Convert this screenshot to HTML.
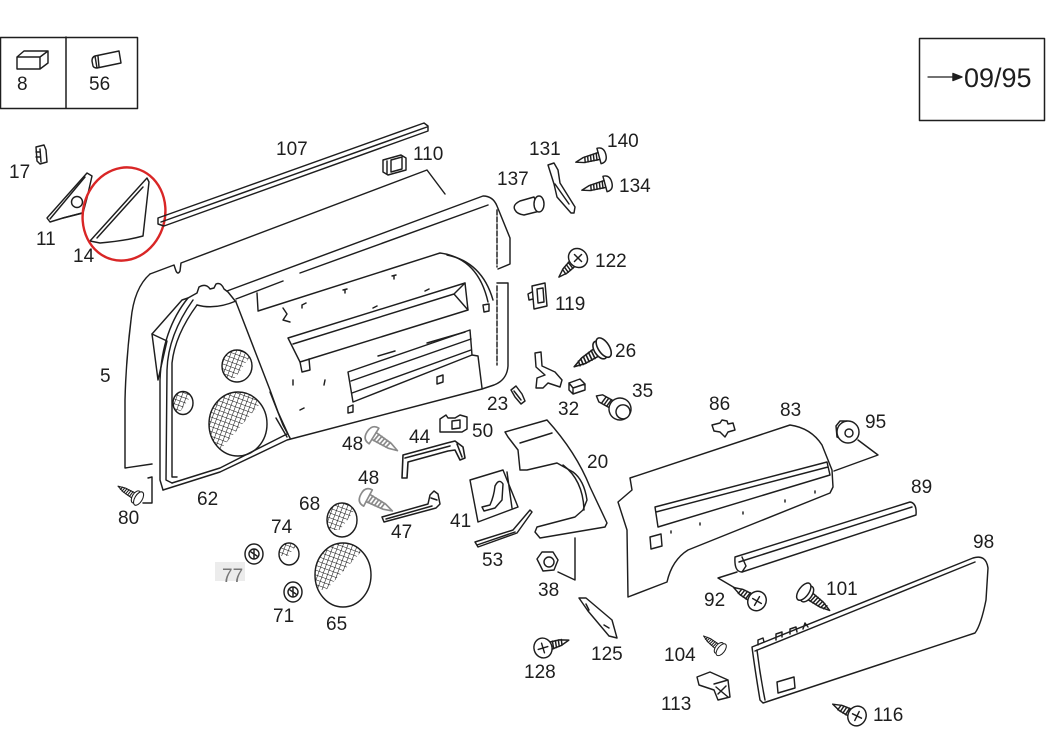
<!DOCTYPE html>
<html><head><meta charset="utf-8"><style>
html,body{margin:0;padding:0;background:#fff;}
svg{display:block;}
text{font-family:"Liberation Sans",Arial,sans-serif;font-size:19px;fill:#1e1e1e;}
</style></head><body>
<svg width="1049" height="732" viewBox="0 0 1049 732" xmlns="http://www.w3.org/2000/svg">
<defs>
<pattern id="mesh" width="4.5" height="4.5" patternUnits="userSpaceOnUse" patternTransform="rotate(20)">
<path d="M0,0 L0,4.5 M0,0 L4.5,0" stroke="#111" stroke-width="1.1" fill="none"/>
</pattern>
<clipPath id="c1"><ellipse cx="237" cy="366" rx="15" ry="16"/></clipPath>
<clipPath id="c2"><ellipse cx="238" cy="424" rx="29" ry="32"/></clipPath>
<clipPath id="c3"><ellipse cx="183" cy="403" rx="10" ry="11.5"/></clipPath>
<clipPath id="c4"><ellipse cx="342" cy="520" rx="15" ry="17"/></clipPath>
<clipPath id="c5"><ellipse cx="343" cy="575" rx="28" ry="32"/></clipPath>
<clipPath id="c6"><ellipse cx="289" cy="554" rx="10" ry="11"/></clipPath>
<g id="ss">
<path d="M0,-8 Q7,-8 7,0 Q7,8 0,8 Z" fill="#fff"/>
<path d="M0,-3.5 L-16,-2.5 L-24,0 L-16,2.5 L0,3.5"/>
<path d="M-2,-3.5 L-3,3.5 M-5,-3.3 L-6,3.3 M-8,-3.1 L-9,3.1 M-11,-2.9 L-12,2.9 M-14,-2.7 L-15,2.7"/>
</g>
<g id="ph">
<path d="M-4,-4 L-18,-3 L-27,0 L-18,3 L-4,4"/>
<path d="M-7,-4 L-8,4 M-10,-3.8 L-11,3.8 M-13,-3.5 L-14,3.5 M-16,-3.2 L-17,3.2 M-19,-2.8 L-20,2.8"/>
<ellipse cx="0" cy="0" rx="9" ry="10" fill="#fff"/>
<path d="M0,-5 L0,5 M-5,0 L5,0"/>
</g>
<g id="rs">
<path d="M-4,-4 L-18,-3 L-28,0 L-18,3 L-4,4"/>
<path d="M-7,-4 L-8,4 M-10,-3.8 L-11,3.8 M-13,-3.5 L-14,3.5 M-16,-3.2 L-17,3.2 M-19,-2.8 L-20,2.8 M-22,-2.2 L-23,2.2"/>
<ellipse cx="0" cy="0" rx="5" ry="9" fill="#fff"/>
<ellipse cx="4" cy="0" rx="5" ry="10" fill="#fff"/>
</g>
<g id="bolt">
<path d="M-6,-4 L-22,-4 L-27,0 L-22,4 L-6,4"/>
<path d="M-9,-4 L-10,4 M-12,-4 L-13,4 M-15,-4 L-16,4 M-18,-4 L-19,4"/>
<circle cx="0" cy="0" r="11" fill="#fff"/>
<circle cx="4" cy="1" r="7" fill="#fff"/>
</g>
</defs>

<g fill="none" stroke="#1e1e1e" stroke-width="1.45" stroke-linejoin="round" stroke-linecap="round">

<!-- top-left box -->
<rect x="0.5" y="37.5" width="137" height="71" stroke-width="1.5"/>
<line x1="66" y1="37" x2="66" y2="108" stroke-width="1.5"/>
<path d="M17,57 L40,57 L40,69 L17,69 Z M17,57 L24,51 L48,51 L40,57 M48,51 L48,63 L40,69"/>
<path d="M95,56 L119,51 L121,63 L97,68 Z M95,56 Q92,57 92,61 L93,66 Q94,68 97,68 M98,56 L99,67"/>

<!-- top-right box -->
<rect x="919.5" y="38.5" width="125" height="82" stroke-width="1.5"/>
<line x1="928" y1="77" x2="954" y2="77" stroke-width="1.2"/>
<path d="M953,73.5 L962,77 L953,80.5 Z" fill="#1e1e1e"/>

<!-- 17 clip -->
<path d="M36,147 L44,145 L46,150 L47,162 L40,164 L37,161 Z M40,149 L41,162 M36,152 L40,152 M36,157 L40,157"/>

<!-- 11 triangle -->
<path d="M87,173 L92,176 L87,198 L83,213 L63,218 L50,222 L47,218 Z"/>
<path d="M85,177 L50,219 M63,218 L82,213"/>
<circle cx="77" cy="202" r="5.5"/>

<!-- 14 triangle -->
<path d="M147,178 L149,182 L143,236 Q125,241 100,243 L90,241 Z"/>
<path d="M143,187 L97,238"/>

<!-- red ellipse -->
<ellipse cx="124" cy="214" rx="41" ry="47" transform="rotate(15 124 214)" stroke="#d92626" stroke-width="2.4"/>

<!-- 107 strip -->
<path d="M158,218 L424,123 L428,126 L428,131 L164,226 L158,224 Z"/>
<path d="M161,222 L427,127"/>

<!-- 110 -->
<path d="M383,160 L401,155 L406,158 L406,170 L388,175 L383,172 Z M387,161 L387,174 M391,160 L402,157 L402,169 L391,172 Z"/>

<!-- main panel 5 -->
<path d="M150,274 L174,265 L176,271 Q178,275 180,271 L181,263 L427,170 L445,194"/>
<path d="M150,274 Q134,288 131,320 Q126,360 125,400 L125,468 L152,464"/>
<path d="M152,477 L148,478 M152,477 L152,503 L143,503"/>
<path d="M227,291 L483,196 Q493,196 497,206 L510,238 L510,264 L498,269"/>
<path d="M497,210 L497,267" stroke-dasharray="5 2"/>
<path d="M300,273 L488,205"/>
<path d="M236,299 L283,281"/>
<path d="M497,283 L508,283 L508,366 Q507,380 494,385 L482,389"/>
<path d="M497,286 L497,365" stroke-dasharray="5 2"/>
<path d="M258,311 L440,253 Q478,258 488,302"/>
<path d="M447,255 Q482,262 493,300"/>
<path d="M483,305 L489,304 L489,311 L484,312 Z"/>
<path d="M257,293 L258,310 M283,308 L287,314 L283,320 L290,322"/>
<!-- upper pocket -->
<path d="M288,338 L465,283 L468,310 L300,362 Z"/>
<path d="M293,344 L454,294 L465,283 M454,294 L468,310"/>
<path d="M300,362 L302,372 L310,370 L309,359"/>
<path d="M378,356 L395,351 M427,343 L465,332"/>
<!-- lower pocket -->
<path d="M348,372 L470,330 L472,355 L353,402 Z"/>
<path d="M351,381 L471,339 M352,393 L471,350"/>
<path d="M437,377 L443,375 L443,382 L437,384 Z"/>
<path d="M348,407 L353,405 L353,412 L348,413 Z"/>
<path d="M472,355 L478,356 L482,388"/>
<!-- small ticks -->
<path d="M302,305 L306,303 M302,305 L302,308 M343,290 L347,289 M345,290 L345,293 M373,308 L377,306 M392,276 L396,275 M394,276 L394,279 M425,291 L429,289 M293,380 L293,385 M325,380 L324,385 M300,410 L304,408"/>
<!-- bottom -->
<path d="M163,490 L220,472 L287,440 L482,389"/>
<path d="M172,483 L220,468 L287,434"/>
<!-- speaker housing -->
<path d="M152,334 L182,300 L188,298 L197,293 L199,287 Q206,283 210,289 L214,288 L216,284 Q221,282 224,289 L228,292 L236,302 L270,390 L278,412 L288,434"/>
<path d="M188,298 Q162,330 160,380 L160,480 L163,490"/>
<path d="M193,300 Q168,335 167,370 L166,480 L172,483"/>
<path d="M197,305 Q175,335 172,363 L172,477 L177,477"/>
<path d="M152,334 L167,341 L158,380 L152,334"/>
<path d="M197,305 Q215,310 236,301"/>
<path d="M270,392 L283,425 L290,438 M276,418 L287,437"/>

<!-- speakers -->
<ellipse cx="237" cy="366" rx="15" ry="16"/>
<ellipse cx="238" cy="424" rx="29" ry="32"/>
<ellipse cx="183" cy="403" rx="10" ry="11.5"/>
</g>
<g stroke="none">
<polygon points="220,348 256,348 235,378 220,378" fill="url(#mesh)" clip-path="url(#c1)"/>
<polygon points="205,390 272,390 220,450 205,450" fill="url(#mesh)" clip-path="url(#c2)"/>
<polygon points="172,390 195,390 180,412 172,412" fill="url(#mesh)" clip-path="url(#c3)"/>
<polygon points="325,500 362,500 340,530 325,530" fill="url(#mesh)" clip-path="url(#c4)"/>
<polygon points="312,540 372,540 326,590 312,590" fill="url(#mesh)" clip-path="url(#c5)"/>
<polygon points="278,541 300,541 288,556 278,556" fill="url(#mesh)" clip-path="url(#c6)"/>
</g>

<g fill="none" stroke="#1e1e1e" stroke-width="1.45" stroke-linejoin="round" stroke-linecap="round">
<!-- small round parts -->
<ellipse cx="342" cy="520" rx="15" ry="17"/>
<ellipse cx="343" cy="575" rx="28" ry="32"/>
<ellipse cx="289" cy="554" rx="10" ry="11"/>
<ellipse cx="254" cy="554" rx="9" ry="10"/>
<circle cx="254" cy="554" r="5"/>
<path d="M251,552 L257,556 M254,550 L254,558"/>
<ellipse cx="293" cy="592" rx="9" ry="10"/>
<circle cx="293" cy="592" r="5"/>
<path d="M290,590 L296,594 M293,588 L293,596"/>

<!-- 80 fastener -->
<use href="#rs" transform="translate(136,497) rotate(31) scale(0.75)"/>

<!-- right top parts -->
<path d="M548,165 L554,163 L558,170 L560,183 L575,207 L574,213 L571,213 L557,197 L554,184 Z M555,184 L569,204"/>
<use href="#ss" transform="translate(599,156) rotate(-15)"/>
<use href="#ss" transform="translate(605,184) rotate(-15)"/>
<path d="M515,210 Q512,205 520,201 L534,197 L540,211 L524,215 Q517,214 515,210 Z"/>
<ellipse cx="539" cy="204" rx="5" ry="8" fill="#fff"/>
<use href="#ph" transform="translate(578,258) rotate(-45)"/>
<path d="M532,286 L545,283 L547,306 L534,309 Z M537,289 L543,288 L544,302 L538,303 Z M532,292 L528,294 L529,300 L533,299"/>
<use href="#rs" transform="translate(600,350) rotate(-33) scale(1.1)"/>
<path d="M535,353 L541,352 L542,366 L555,372 L562,380 L560,387 L548,383 L543,388 L536,388 L537,378 L545,375 L536,367 Z"/>
<path d="M569,383 L580,379 L585,384 L585,390 L573,394 L569,390 Z M569,383 L573,388 L585,384 M573,388 L573,394"/>
<path d="M511,390 L516,386 L522,394 L525,401 L521,404 L515,397 Z M514,391 L521,400"/>
<use href="#bolt" transform="translate(620,409) rotate(29)"/>

<!-- 48 screws (gray) -->
<g stroke="#8a8a8a">
<use href="#ss" transform="translate(374,436) rotate(-148) scale(1.15)"/>
<use href="#ss" transform="translate(368,498) rotate(-152) scale(1.15)"/>
</g>

<!-- 50 -->
<path d="M440,419 L440,432 L462,432 L467,429 L467,417 L460,415 L455,418 L448,418 L446,415 Z M452,421 L460,420 L460,428 L452,429 Z"/>
<!-- 44 -->
<path d="M403,455 L447,443 L455,441 L463,447 L465,458 L460,460 L455,450 L448,451 L408,462 L407,478 L402,478 Z M405,458 L450,446 M457,444 L462,457" stroke-width="1.6"/>
<!-- 47 -->
<path d="M382,517 L428,504 L430,495 L434,491 L438,494 L440,504 L436,508 L384,522 Z M386,519 L432,506 M431,498 L437,500" stroke-width="1.5"/>

<!-- 41 -->
<path d="M470,480 L503,470 L518,507 L478,522 Z M507,472 L512,508"/>
<path d="M482,507 L490,505 Q494,496 495,486 Q499,478 503,484 L502,500 L495,508 L484,511 Z"/>
<!-- 53 -->
<path d="M475,542 L513,530 L530,510 L532,512 L517,533 L478,547 Z M477,545 L515,532"/>
<!-- 20 -->
<path d="M505,432 L547,420 Q576,452 590,487 L607,523 L605,527 L540,538 L535,532 L537,527 L575,517 L583,510 L587,500 Q584,480 573,472 L557,463 L527,470 L520,470 L518,450 L508,437 Z"/>
<path d="M520,443 L552,433 M563,465 Q583,480 584,510"/>
<path d="M575,538 L575,580 L558,572"/>
<!-- 38 -->
<path d="M537,559 L542,552 L553,552 L558,560 L554,570 L543,571 Z"/>
<circle cx="549" cy="562" r="5"/>
<!-- 125 -->
<path d="M579,598 L586,598 L612,620 L617,638 L609,636 L588,611 Z M586,604 L589,610 M604,625 L609,628"/>
<!-- 128 -->
<use href="#ph" transform="translate(543,648) rotate(163)"/>

<!-- 86 -->
<path d="M712,425 L720,423 L722,420 L727,421 L728,424 L733,423 L735,430 L728,432 L725,437 L720,432 L714,431 Z"/>
<!-- 83 -->
<path d="M630,478 L790,425 Q811,428 822,445 L832,470 L833,487 L830,493 L688,550 Q672,560 667,582 L628,597 L627,530 L618,502 L632,490 Z"/>
<path d="M655,507 L827,462 L830,475 L658,527 Z M656,512 L828,467"/>
<path d="M650,537 L661,534 L662,546 L651,549 Z"/>
<path d="M671,531 L671,533 M700,523 L700,525 M743,512 L743,514 M785,500 L785,502 M815,491 L815,493"/>
<!-- 95 -->
<path d="M836,426 L840,421 L847,421 L843,440 L837,437 Z"/>
<circle cx="848" cy="432" r="11" fill="#fff"/>
<circle cx="849" cy="433" r="4"/>
<path d="M858,440 L878,455 L834,471"/>
<!-- 89 -->
<path d="M735,557 L910,502 Q917,503 916,515 L742,572 Q734,572 735,557 Z"/>
<path d="M739,562 L912,507 M742,557 L746,566 L742,572"/>
<path d="M737,572 L718,578 L735,588"/>
<use href="#ph" transform="translate(757,601) rotate(30)"/>
<use href="#rs" transform="translate(807,594) rotate(-144)"/>
<!-- 98 -->
<path d="M752,647 L973,558 Q986,554 988,568 L986,600 Q981,625 975,633 L763,703 L760,700 Q755,670 752,647 Z"/>
<path d="M755,651 L975,562 M757,650 Q760,675 765,700"/>
<path d="M758,645 L758,640 L763,638 L764,642 M776,640 L776,634 L782,632 L782,637 M790,634 L790,629 L796,627 L797,632 M803,629 L805,623 L808,627"/>
<path d="M777,682 L794,677 L795,688 L778,693 Z"/>
<!-- 104 -->
<use href="#rs" transform="translate(719,648) rotate(38) scale(0.7)"/>
<!-- 113 -->
<path d="M697,677 L710,672 L728,680 L730,697 L718,700 L714,690 L699,685 Z M714,684 L728,680 M716,687 L728,697 M726,686 L718,694"/>
<!-- 116 -->
<use href="#ph" transform="translate(857,716) rotate(26)"/>
</g>

<!-- 77 highlight -->
<rect x="215" y="562" width="30" height="19" fill="#ececec"/>

<!-- labels -->
<g>
<text x="17" y="90">8</text>
<text x="89" y="90">56</text>
<text x="964" y="87" style="font-size:27px">09/95</text>
<text x="9" y="178">17</text>
<text x="36" y="245">11</text>
<text x="73" y="262">14</text>
<text x="276" y="155">107</text>
<text x="413" y="160">110</text>
<text x="529" y="155">131</text>
<text x="607" y="147">140</text>
<text x="497" y="185">137</text>
<text x="619" y="192">134</text>
<text x="595" y="267">122</text>
<text x="555" y="310">119</text>
<text x="615" y="357">26</text>
<text x="632" y="397">35</text>
<text x="487" y="410">23</text>
<text x="558" y="415">32</text>
<text x="100" y="382">5</text>
<text x="342" y="450">48</text>
<text x="409" y="443">44</text>
<text x="472" y="437">50</text>
<text x="587" y="468">20</text>
<text x="358" y="484">48</text>
<text x="197" y="505">62</text>
<text x="299" y="510">68</text>
<text x="391" y="538">47</text>
<text x="450" y="527">41</text>
<text x="271" y="533">74</text>
<text x="482" y="566">53</text>
<text x="222" y="582" style="fill:#777">77</text>
<text x="538" y="596">38</text>
<text x="273" y="622">71</text>
<text x="326" y="630">65</text>
<text x="524" y="678">128</text>
<text x="591" y="660">125</text>
<text x="118" y="524">80</text>
<text x="709" y="410">86</text>
<text x="780" y="416">83</text>
<text x="865" y="428">95</text>
<text x="911" y="493">89</text>
<text x="973" y="548">98</text>
<text x="826" y="595">101</text>
<text x="704" y="606">92</text>
<text x="664" y="661">104</text>
<text x="661" y="710">113</text>
<text x="873" y="721">116</text>
</g>
</svg>
</body></html>
